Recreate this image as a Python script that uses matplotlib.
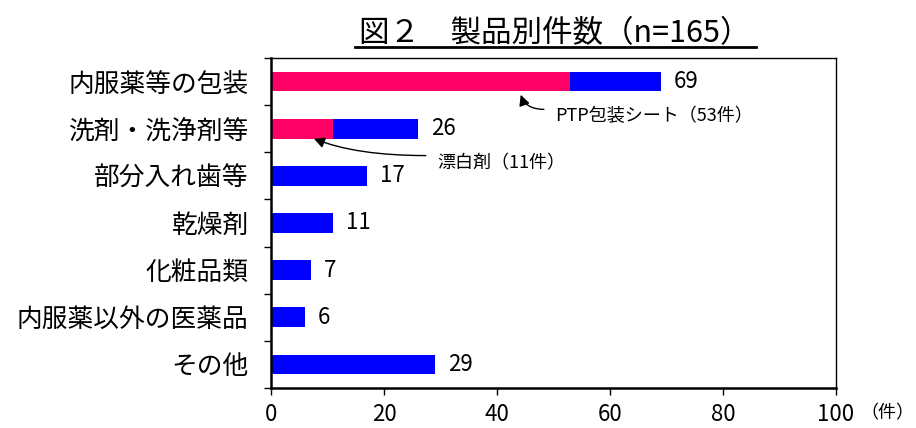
import numpy as np
import matplotlib
matplotlib.use("Agg")
import matplotlib.pyplot as plt
from matplotlib.lines import Line2D

plt.rcParams['font.family'] = ['Noto Sans CJK JP', 'DejaVu Sans']

categories = ['内服薬等の包装', '洗剤・洗浄剤等', '部分入れ歯等', '乾燥剤', '化粧品類', '内服薬以外の医薬品', 'その他']
totals = [69, 26, 17, 11, 7, 6, 29]
sub_counts = [53, 11, 0, 0, 0, 0, 0]   # PTP包装シート, 漂白剤
sub_labels = ['PTP包装シート（53件）', '漂白剤（11件）']
x_ticks = [0, 20, 40, 60, 80, 100]

pink = '#FF0066'
blue = '#0000FF'

totals = np.array(totals)
sub_counts = np.array(sub_counts)
y = np.arange(len(categories))

fig = plt.figure(figsize=(9.16, 4.28), dpi=100)
ax = fig.add_axes([0.2958, 0.0935, 0.6169, 0.771])

h = 0.42
ax.barh(y, sub_counts, height=h, color=pink, linewidth=0)
ax.barh(y, totals - sub_counts, left=sub_counts, height=h, color=blue, linewidth=0)

for yi, v in zip(y, totals):
    ax.annotate(str(v), xy=(v, yi), xytext=(9.5, 0), textcoords='offset points',
                ha='left', va='center', fontsize=16)

ax.set_xlim(0, 100)
ax.set_ylim(6.5, -0.5)
ax.set_xticks(x_ticks)
ax.tick_params(axis='x', labelsize=16, length=5, width=1, direction='out', pad=6)

ax.set_yticks(y)
ax.set_yticklabels(categories, fontsize=18.5)
ax.set_yticks(np.arange(-0.5, 7, 1), minor=True)
ax.tick_params(axis='y', which='major', length=0, pad=16)
ax.tick_params(axis='y', which='minor', length=5, width=1, direction='out')

for s in ['left', 'bottom']:
    ax.spines[s].set_linewidth(1.8)
for s in ['top', 'right']:
    ax.spines[s].set_linewidth(1.0)

# annotations for sub-categories
ax.text(50.3, 0.74, sub_labels[0], ha='left', va='center', fontsize=13)
ax.annotate('', xy=(44.2, 0.28), xytext=(48.3, 0.59),
            arrowprops=dict(arrowstyle='-|>', color='black', lw=1.0, mutation_scale=16,
                            connectionstyle='angle3,angleA=0,angleB=-70',
                            shrinkA=0, shrinkB=0))
ax.text(29.4, 1.74, sub_labels[1], ha='left', va='center', fontsize=13)
ax.annotate('', xy=(7.6, 1.21), xytext=(27.4, 1.57),
            arrowprops=dict(arrowstyle='-|>', color='black', lw=1.0, mutation_scale=16,
                            connectionstyle='angle3,angleA=0,angleB=-22',
                            shrinkA=0, shrinkB=0))

ax.text(1.044, -0.076, '（件）', transform=ax.transAxes, ha='left', va='center', fontsize=13)

# title with underline
fig.text(0.606, 0.958, '図２　製品別件数（n=165）', ha='center', va='top', fontsize=22)
fig.add_artist(Line2D([355 / 916, 756 / 916], [1 - 47 / 428, 1 - 47 / 428],
                      color='black', lw=2, transform=fig.transFigure))

fig.savefig('out.png', dpi=100)
